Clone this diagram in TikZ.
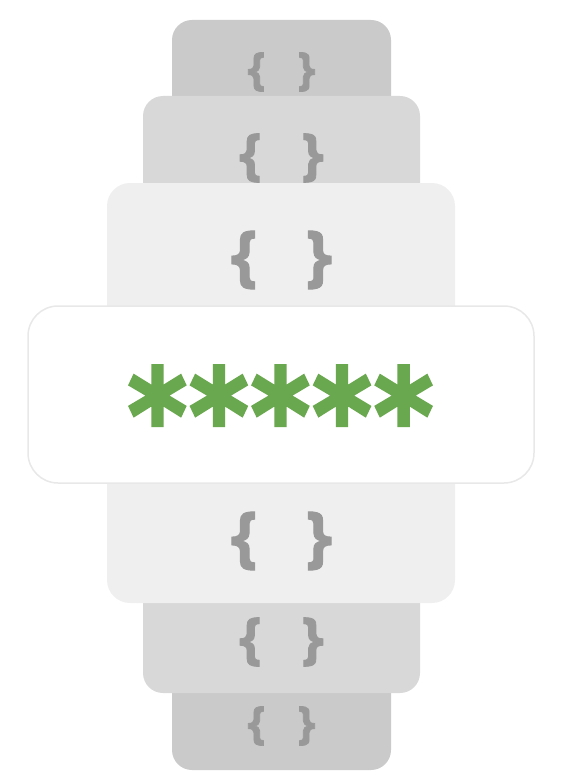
\documentclass[tikz,border=0pt]{standalone}
\usepackage{fontspec}
\usepackage{tikz}
\newfontfamily\bracefont{Open Sans}[BoldFeatures={FakeBold=1.5}]
\newfontfamily\starfont{DejaVu Sans}[BoldFeatures={FakeBold=2.5}]
\definecolor{layerA}{HTML}{CACACA}
\definecolor{layerB}{HTML}{D8D8D8}
\definecolor{layerC}{HTML}{EFEFEF}
\definecolor{frameline}{HTML}{E8E8E8}
\definecolor{bracegray}{HTML}{999999}
\definecolor{stargreen}{HTML}{6AA84F}
\tikzset{layer/.style={rounded corners=#1, draw=none, inner sep=0pt, outer sep=0pt}, layer/.default={20pt}}
\tikzset{braces/.style={text=bracegray, inner sep=0pt, font=\bracefont\bfseries\fontsize{#1}{#1}\selectfont}}
\newcommand{\pairgap}{\hspace{0.72em}}
\newcommand{\starkern}{\kern2.5pt}

\begin{document}
\begin{tikzpicture}[x=1pt, y=-1pt]
	\useasboundingbox (0, 0) rectangle (563, 778);
	% layers, from the back to the front
	\node[layer, fill=layerA, minimum width=219pt, minimum height=750pt] (outer) at (281.5, 395) {};
	\node[layer, fill=layerB, minimum width=277pt, minimum height=597pt] (middle) at (281.5, 394.5) {};
	\node[layer=23pt, fill=layerC, minimum width=348pt, minimum height=420pt] (inner) at (281, 393) {};
	\node[layer=30pt, fill=white, draw=frameline, line width=1.5pt, minimum width=506pt, minimum height=177pt] (field) at (281, 394.5) {};
	% the braces above and below
	\node[braces=45] (topA) at (281.5, 72) {\{\pairgap\}};
	\node[braces=56] (topB) at (281.5, 158) {\{\pairgap\}};
	\node[braces=67] (topC) at (281.5, 260) {\{\pairgap\}};
	\node[braces=67] (botC) at (281.5, 541) {\{\pairgap\}};
	\node[braces=56] (botB) at (281.5, 642) {\{\pairgap\}};
	\node[braces=45] (botA) at (281.5, 726) {\{\pairgap\}};
	% the hidden password
	\node[text=stargreen, inner sep=0pt, xscale=0.88, transform shape, font=\starfont\bfseries\fontsize{129}{129}\selectfont] (stars) at (280.5, 413.5) {*\starkern*\starkern*\starkern*\starkern*};
\end{tikzpicture}
\end{document}
